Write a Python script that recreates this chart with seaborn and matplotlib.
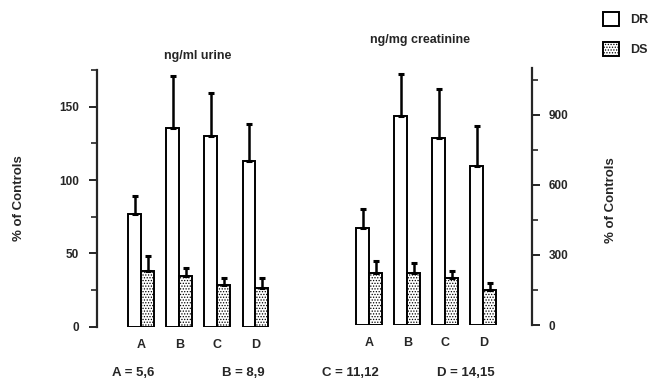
import numpy as np
import pandas as pd
import matplotlib
matplotlib.use("Agg")
import matplotlib.pyplot as plt
from matplotlib.patches import Patch
import seaborn as sns

# Data
groups = ["A", "B", "C", "D"]
series = ["DR", "DS"]

urine_dr = [76.6, 135.7, 129.8, 113.0]
urine_dr_err = [12.7, 35.3, 29.7, 25.0]
urine_ds = [38.2, 34.4, 28.6, 26.6]
urine_ds_err = [10.2, 5.6, 4.6, 6.8]

creat_dr = [417, 896, 803, 683]
creat_dr_err = [79, 180, 208, 168]
creat_ds = [224, 224, 201, 150]
creat_ds_err = [50, 43, 29, 29]

group_notes = ["A = 5,6", "B = 8,9", "C = 11,12", "D = 14,15"]

sns.set_style("white")
plt.rcParams["font.family"] = ["Liberation Sans", "DejaVu Sans"]
plt.rcParams["font.weight"] = "bold"
plt.rcParams["hatch.linewidth"] = 0.6

W, H = 651, 381
fig = plt.figure(figsize=(W / 100, H / 100), dpi=100)


def px_axes(left, bottom_from_top, width, height):
    # convert pixel box (top-left origin) to figure fraction
    return fig.add_axes([left / W, (H - bottom_from_top) / H, width / W, height / H])


def make_df(dr, ds):
    return pd.DataFrame({
        "group": groups * 2,
        "series": ["DR"] * 4 + ["DS"] * 4,
        "value": list(dr) + list(ds),
    })


def draw_panel(ax, dr, dr_err, ds, ds_err):
    df = make_df(dr, ds)
    sns.barplot(data=df, x="group", y="value", hue="series", hue_order=series,
                order=groups, width=0.68, palette=["white", "white"],
                edgecolor="black", linewidth=1.4, legend=False, errorbar=None, ax=ax)
    bars = ax.patches
    for p in bars[4:]:
        p.set_hatch("......")
    errs = list(dr_err) + list(ds_err)
    for p, e in zip(bars, errs):
        xc = p.get_x() + p.get_width() / 2
        top = p.get_height()
        ax.errorbar(xc, top, yerr=[[0], [e]], fmt="none", ecolor="black",
                    elinewidth=1.8, capsize=2.2, capthick=2.2)
    ax.set_xlabel("")
    ax.set_ylabel("")
    ax.tick_params(axis="x", length=0, labelsize=9, pad=9)
    for lab in ax.get_xticklabels():
        lab.set_fontweight("bold")
    sns.despine(ax=ax, top=True, right=True, left=True, bottom=True)


# left panel: ng/ml urine
ax1 = px_axes(97, 326.7, 177.5, 256.7)
draw_panel(ax1, urine_dr, urine_dr_err, urine_ds, urine_ds_err)
ax1.set_xlim(-1.16, 3.5)
ax1.set_ylim(0, 175)
ax1.spines["left"].set_visible(True)
ax1.spines["left"].set_linewidth(1.6)
ax1.set_yticks([0, 50, 100, 150])
ax1.set_yticks([25, 75, 125, 175], minor=True)
ax1.tick_params(axis="y", which="major", direction="out", length=6, width=1.4,
                left=True, labelsize=8.5, pad=7)
ax1.tick_params(axis="y", which="minor", direction="out", length=4, width=1.2, left=True)
ax1.set_title("ng/ml urine", fontsize=9, fontweight="bold", pad=8, x=0.57)

# right panel: ng/mg creatinine
ax2 = px_axes(346.4, 325, 185.2, 256.7)
draw_panel(ax2, creat_dr, creat_dr_err, creat_ds, creat_ds_err)
ax2.set_xlim(-0.6, 4.27)
ax2.set_ylim(0, 1100)
ax2.spines["right"].set_visible(True)
ax2.spines["right"].set_linewidth(1.6)
ax2.yaxis.tick_right()
ax2.set_yticks([0, 300, 600, 900])
ax2.set_yticks([150, 450, 750, 1050], minor=True)
ax2.tick_params(axis="y", which="major", direction="out", length=6, width=1.4,
                right=True, left=False, labelsize=8.5, pad=6)
ax2.tick_params(axis="y", which="minor", direction="out", length=4, width=1.2,
                right=True, left=False)
ax2.set_title("ng/mg creatinine", fontsize=9, fontweight="bold", pad=18, x=0.40)

for ax in (ax1, ax2):
    for lab in ax.get_yticklabels():
        lab.set_fontweight("bold")

# y labels
fig.text(19 / W, 1 - 198 / H, "% of Controls", rotation=90, ha="center", va="center",
         fontsize=9.5, fontweight="bold")
fig.text(611 / W, 1 - 200 / H, "% of Controls", rotation=90, ha="center", va="center",
         fontsize=9.5, fontweight="bold")

# legend
handles = [Patch(facecolor="white", edgecolor="black", linewidth=1.4),
           Patch(facecolor="white", edgecolor="black", linewidth=1.4, hatch="......")]
fig.legend(handles, series, loc="upper left", bbox_to_anchor=(603 / W, 1 - 12 / H),
           frameon=False, handlelength=1.3, handleheight=1.3,
           handletextpad=0.85, labelspacing=1.3, borderpad=0, borderaxespad=0,
           prop={"weight": "bold", "size": 9})

# group notes along the bottom
note_x = [112, 221.7, 321.7, 436.7]
for xp, txt in zip(note_x, group_notes):
    fig.text(xp / W, 1 - 373 / H, txt, ha="left", va="center", fontsize=9.5,
             fontweight="bold")

fig.savefig("out.png", dpi=100)
